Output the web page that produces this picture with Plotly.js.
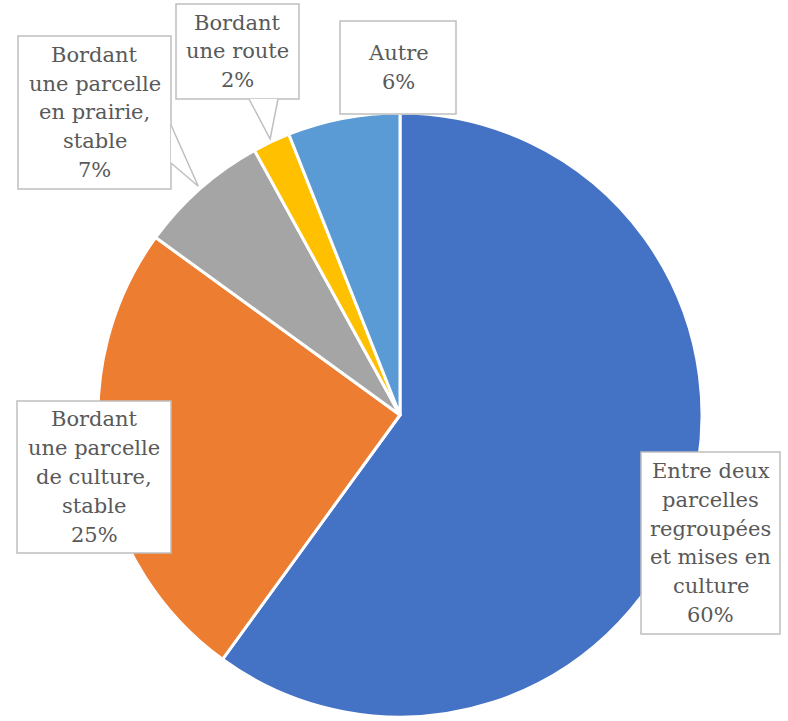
<!DOCTYPE html>
<html><head><meta charset="utf-8">
<script src="https://cdn.plot.ly/plotly-3.0.1.min.js"></script>
<style>body{margin:0;background:#fff}</style>
</head><body><div id="chart" style="width:788px;height:721px"></div>
<script>
// ---- data ----
const categories = [
  "Entre deux parcelles regroupées et mises en culture",
  "Bordant une parcelle de culture, stable",
  "Bordant une parcelle en prairie, stable",
  "Bordant une route",
  "Autre"
];
const labelLines = [
  ["Entre deux", "parcelles", "regroupées", "et mises en", "culture"],
  ["Bordant", "une parcelle", "de culture,", "stable"],
  ["Bordant", "une parcelle", "en prairie,", "stable"],
  ["Bordant", "une route"],
  ["Autre"]
];
const values = [60, 25, 7, 2, 6];
const colors = ["#4472C4", "#ED7D31", "#A5A5A5", "#FFC000", "#5B9BD5"];

// ---- layout geometry (pixels) ----
const W = 788, H = 721;
const cx = 400, cy = 415, R = 302;
const boxes = [
  [641, 452, 780, 634],
  [17, 401, 171, 553],
  [18, 36, 171, 189],
  [176, 4, 299, 99],
  [340, 21, 456, 114]
];
const tailBases = {2: [[171, 125], [171, 163]], 3: [[249, 99], [278, 99]]};
const lineGap = 28.8;

const px = x => x / W;
const py = y => 1 - y / H;

const total = values.reduce((a, b) => a + b, 0);
const shapes = [];
const annotations = [];
let cum = 0;
values.forEach((v, i) => {
  const mid = (cum + v / 2) / total;
  cum += v;
  const [x0, y0, x1, y1] = boxes[i];
  shapes.push({type: 'rect', xref: 'paper', yref: 'paper', x0: px(x0), x1: px(x1), y0: py(y1), y1: py(y0),
    fillcolor: '#ffffff', line: {color: '#BFBFBF', width: 1.5}, layer: 'above'});
  if (tailBases[i]) {
    const ang = mid * 2 * Math.PI;
    const tx = cx + 1.01 * R * Math.sin(ang);
    const ty = cy - 1.01 * R * Math.cos(ang);
    const [a, b] = tailBases[i];
    const fillPath = `M${px(a[0])},${py(a[1])} L${px(tx)},${py(ty)} L${px(b[0])},${py(b[1])} Z`;
    shapes.push({type: 'path', xref: 'paper', yref: 'paper', path: fillPath, fillcolor: '#ffffff', line: {width: 0}, layer: 'above'});
    const strokePath = `M${px(a[0])},${py(a[1])} L${px(tx)},${py(ty)} L${px(b[0])},${py(b[1])}`;
    shapes.push({type: 'path', xref: 'paper', yref: 'paper', path: strokePath, fillcolor: 'rgba(0,0,0,0)', line: {color: '#BFBFBF', width: 1.5}, layer: 'above'});
  }
  const lines = labelLines[i].concat([Math.round(v / total * 100) + "%"]);
  const bcx = (x0 + x1) / 2, bcy = (y0 + y1) / 2;
  lines.forEach((t, k) => {
    const ly = bcy + (k - (lines.length - 1) / 2) * lineGap;
    annotations.push({xref: 'paper', yref: 'paper', x: px(bcx), y: py(ly), text: t, showarrow: false,
      xanchor: 'center', yanchor: 'middle',
      font: {family: 'DejaVu Serif', size: 21, color: '#595959'}});
  });
});

const trace = {
  type: 'pie',
  labels: categories,
  values: values,
  sort: false,
  direction: 'clockwise',
  rotation: 0,
  textinfo: 'none',
  hoverinfo: 'label+percent',
  marker: {colors: colors, line: {color: '#ffffff', width: 3}},
  domain: {x: [px(cx - R), px(cx + R)], y: [py(cy + R), py(cy - R)]},
  showlegend: false
};

Plotly.newPlot('chart', [trace], {
  width: W, height: H,
  margin: {l: 0, r: 0, t: 0, b: 0},
  paper_bgcolor: '#ffffff',
  shapes: shapes,
  annotations: annotations
}, {displayModeBar: false, staticPlot: true});
</script>
</body></html>
